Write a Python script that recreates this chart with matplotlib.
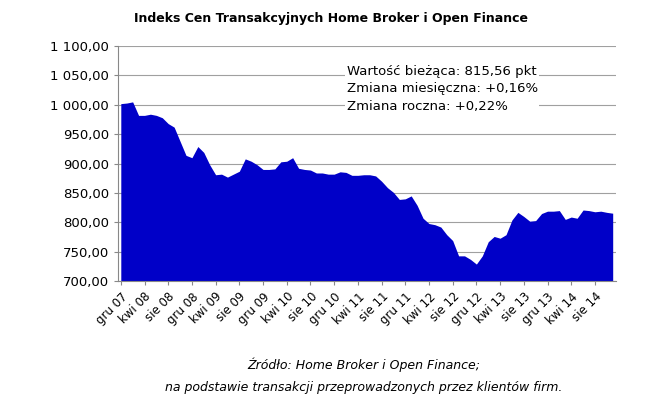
import matplotlib
matplotlib.use("Agg")
import matplotlib.pyplot as plt
from matplotlib.ticker import FuncFormatter

values = [1002,1003,1005,982,982,984,982,978,968,962,938,914,910,929,919,898,881,882,877,882,887,908,904,898,
          890,890,891,903,904,910,892,890,889,884,884,882,882,886,885,880,880,881,881,879,870,859,851,839,
          840,845,829,807,798,796,792,779,769,743,743,737,729,743,767,776,773,779,804,817,810,802,803,815,
          819,819,820,805,809,807,821,820,818,819,817,815.56]
months = ["gru","sty","lut","mar","kwi","maj","cze","lip","sie","wrz","paź","lis"]
labels = []
for i in range(len(values)):
    yr = 7 + (i + 11) // 12
    labels.append(f"{months[i % 12]} {yr:02d}")
tick_idx = list(range(0, len(values), 4))
tick_labels = [labels[i] for i in tick_idx]
yticks = list(range(700, 1101, 50))

fig = plt.figure(figsize=(6.62, 4.11), dpi=100)
ax = fig.add_axes([0.178, 0.316, 0.752, 0.572])
x = list(range(len(values)))
ax.fill_between(x, 700, values, color="#0000C8", lw=0, zorder=2)
ax.set_xlim(-0.5, len(values) - 0.5)
ax.set_ylim(700, 1100)
ax.set_yticks(yticks)
ax.yaxis.set_major_formatter(FuncFormatter(lambda v, p: f"{v:,.2f}".replace(",", " ").replace(".", ",")))
ax.grid(axis="y", color="#A0A0A0", lw=0.8, zorder=1)
ax.set_xticks(tick_idx)
ax.set_xticklabels(tick_labels, rotation=45, ha="right", rotation_mode="anchor", fontsize=8.5)
ax.tick_params(axis="y", labelsize=9.5, length=3, color="#888888")
ax.tick_params(axis="x", length=3, color="#888888")
for s in ["top", "right"]:
    ax.spines[s].set_visible(False)
for s in ["left", "bottom"]:
    ax.spines[s].set_color("#888888")

fig.text(0.5, 0.955, "Indeks Cen Transakcyjnych Home Broker i Open Finance", ha="center", va="center",
         fontsize=9, fontweight="bold")
ax.text(0.46, 0.92, "Wartość bieżąca: 815,56 pkt\nZmiana miesięczna: +0,16%\nZmiana roczna: +0,22%",
        transform=ax.transAxes, va="top", ha="left", fontsize=9.5, linespacing=1.45,
        bbox=dict(facecolor="white", edgecolor="none", pad=1), zorder=3)
fig.text(0.55, 0.112, "Źródło: Home Broker i Open Finance;", ha="center", va="center", fontsize=9, style="italic")
fig.text(0.55, 0.058, "na podstawie transakcji przeprowadzonych przez klientów firm.", ha="center", va="center",
         fontsize=9, style="italic")
fig.savefig("out.png", dpi=100)
